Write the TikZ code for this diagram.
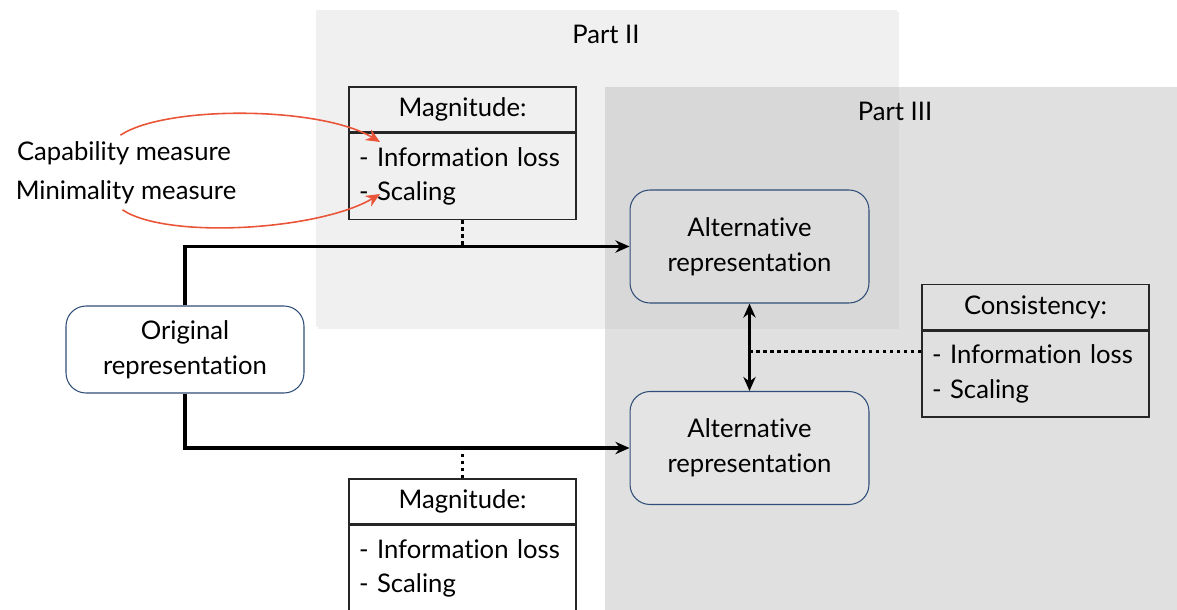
\documentclass[tikz,border=0pt]{standalone}
\usepackage{fontspec}
\setmainfont{Lato}[Ligatures=NoCommon]
\usetikzlibrary{positioning,arrows.meta,shadows}

\definecolor{repblue}{RGB}{47,78,120}
\definecolor{measurered}{RGB}{234,84,56}
\definecolor{partgray}{RGB}{240,240,240}

\tikzset{
  repbox/.style={draw=repblue, rounded corners=0.4cm, align=center,
    minimum width=4.78cm, minimum height=2.26cm, line width=0.6pt},
  headbox/.style={draw=black!85, line width=0.8pt, minimum width=4.54cm,
    minimum height=0.9cm, inner sep=0pt},
  listbox/.style={draw=black!85, line width=0.8pt, minimum width=4.54cm,
    minimum height=1.72cm, text width=4.14cm, inner xsep=0.2cm, align=left},
  flow/.style={line width=1.9pt, -{Stealth[length=8pt,width=7pt]}},
  dots/.style={line width=1.5pt, dash pattern=on 2pt off 2pt},
  measure/.style={measurered, line width=0.9pt, -{Stealth[length=8pt,width=7pt]}}
}

\begin{document}
\begin{tikzpicture}[x=0.02cm, y=-0.02cm, font=\fontsize{14.6}{19.8}\selectfont]
  \useasboundingbox (0,0) rectangle (1177,609);

  % the two parts
  \fill[partgray, drop shadow={shadow xshift=0.04cm, shadow yshift=-0.04cm, opacity=0.12}]
    (316,10) rectangle (897,327);
  \node (part2) at (606,34) {Part II};
  \fill[black!26, fill opacity=0.47] (605,87) rectangle (1190,620);
  \node (part3) at (895,111) {Part III};

  % representations
  \node[repbox, fill=white] (orig) at (185,349.5) [minimum height=1.74cm, minimum width=4.76cm] {Original\\representation};
  \node[repbox, fill=white, fill opacity=0.12, text opacity=1] (altA) at (749.5,246.5) {Alternative\\representation};
  \node[repbox, fill=white, fill opacity=0.12, text opacity=1] (altB) at (749.5,448) {Alternative\\representation};

  % measure boxes
  \node[headbox] (magheadA) at (462.5,109.5) {Magnitude:};
  \node[listbox, below=0pt of magheadA] (magbodyA) {- Information loss\\- Scaling};
  \node[headbox] (magheadB) at (462.5,501.5) {Magnitude:};
  \node[listbox, below=0pt of magheadB] (magbodyB) {- Information loss\\- Scaling};
  \node[headbox] (conhead) at (1035.5,307) {Consistency:};
  \node[listbox, below=0pt of conhead] (conbody) {- Information loss\\- Scaling};

  \node (cap) at (124,153) {Capability measure};
  \node (mini) at (126,192) {Minimality measure};
  \coordinate (infoA) at (380,142);
  \coordinate (scaleA) at (380,194);

  % connectors
  \draw[flow] (orig.north) |- (altA.west);
  \draw[flow] (orig.south) |- (altB.west);
  \draw[line width=1.9pt, {Stealth[length=8pt,width=7pt]}-{Stealth[length=8pt,width=7pt]}] (altA.south) -- (altB.north);
  \draw[dots] (magbodyA.south) -- (magbodyA.south |- altA.west);
  \draw[dots] (magheadB.north) -- (magheadB.north |- altB.west);
  \draw[dots] ([yshift=0.45cm]conbody.west) -- ([yshift=0.45cm]conbody.west -| altA.south);
  \draw[measure] ([xshift=-2pt]cap.north) .. controls +(45,-30) and +(-60,-36) .. (infoA);
  \draw[measure] ([xshift=-2pt]mini.south) .. controls +(45,30) and +(-60,36) .. (scaleA);
\end{tikzpicture}
\end{document}
